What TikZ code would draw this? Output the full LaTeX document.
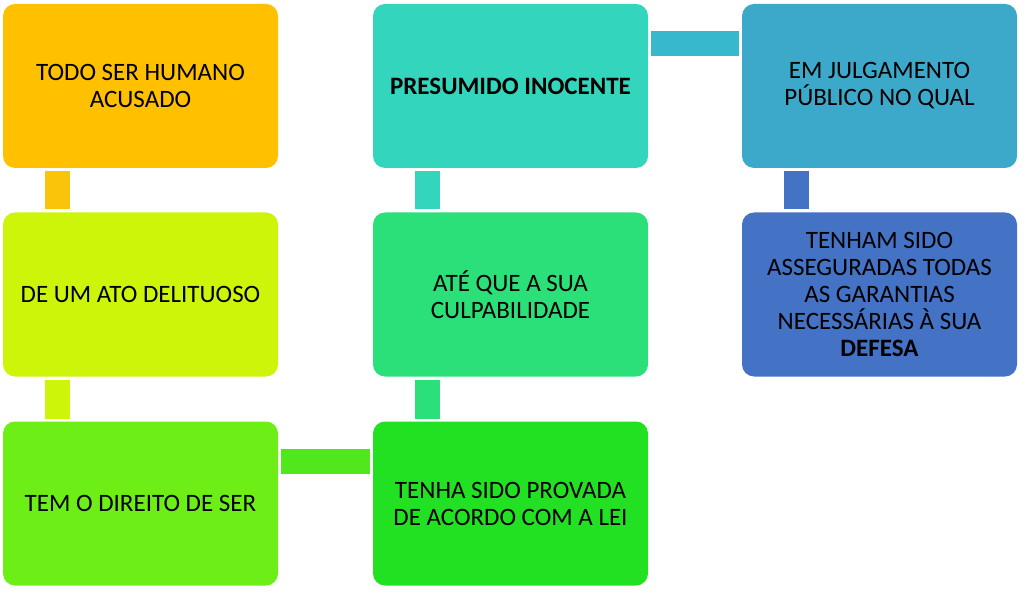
\documentclass[tikz,border=0pt]{standalone}
\usepackage{fontspec}
\setmainfont{Carlito}
\usepackage{tikz}
\usetikzlibrary{positioning}
\definecolor{boxorange}   {RGB}{255, 192,   0}
\definecolor{boxlime}     {RGB}{204, 245,  10}
\definecolor{boxgreen}    {RGB}{110, 238,  23}
\definecolor{boxdeep}     {RGB}{ 34, 224,  34}
\definecolor{boxmint}     {RGB}{ 44, 224, 121}
\definecolor{boxteal}     {RGB}{ 51, 214, 188}
\definecolor{boxsky}      {RGB}{ 61, 169, 202}
\definecolor{boxblue}     {RGB}{ 68, 114, 196}
\definecolor{linkorange}  {RGB}{250, 196,  10}
\definecolor{linkgreen}   {RGB}{ 80, 232,  28}
\definecolor{linkcyan}    {RGB}{ 56, 184, 204}

\tikzset{
	stepbox/.style={rectangle, rounded corners=12pt, minimum width=275pt,
		minimum height=164pt, inner sep=0pt, outer sep=0pt, align=center,
		font=\fontsize{25}{27}\selectfont},
	link/.style={line width=25pt, shorten <=3pt, shorten >=3pt}
}

\begin{document}
\begin{tikzpicture}[x=1pt,y=-1pt]
	\useasboundingbox (0,0) rectangle (1024,593);

	% first column
	\node[stepbox,fill=boxorange] (acusado) at (140.5,86) {TODO SER HUMANO\\ACUSADO};
	\node[stepbox,fill=boxlime] (ato) at (140.5,294.5) {DE UM ATO DELITUOSO};
	\node[stepbox,fill=boxgreen] (direito) at (140.5,503.5) {TEM O DIREITO DE SER};

	% second column
	\node[stepbox,fill=boxdeep] (provada) at (510.5,503.5) {TENHA SIDO PROVADA\\DE ACORDO COM A LEI};
	\node[stepbox,fill=boxmint] (culpa) at (510.5,294.5) {ATÉ QUE A SUA\\CULPABILIDADE};
	\node[stepbox,fill=boxteal] (inocente) at (510.5,86) {\textbf{PRESUMIDO INOCENTE}};

	% third column
	\node[stepbox,fill=boxsky] (julgamento) at (879.5,86) {EM JULGAMENTO\\PÚBLICO NO QUAL};
	\node[stepbox,fill=boxblue] (defesa) at (879.5,294.5) {TENHAM SIDO\\ASSEGURADAS TODAS\\AS GARANTIAS\\NECESSÁRIAS À SUA\\\textbf{DEFESA}};

	% connectors
	\draw[link,draw=linkorange] ([xshift=54.5pt]acusado.south west) -- ([xshift=54.5pt]ato.north west);
	\draw[link,draw=boxlime] ([xshift=54.5pt]ato.south west) -- ([xshift=54.5pt]direito.north west);
	\draw[link,draw=linkgreen] ([yshift=-39.5pt]direito.north east) -- ([yshift=-39.5pt]provada.north west);
	\draw[link,draw=boxmint] ([xshift=54.5pt]provada.north west) -- ([xshift=54.5pt]culpa.south west);
	\draw[link,draw=boxteal] ([xshift=54.5pt]culpa.north west) -- ([xshift=54.5pt]inocente.south west);
	\draw[link,draw=linkcyan] ([yshift=-40pt]inocente.north east) -- ([yshift=-40pt]julgamento.north west);
	\draw[link,draw=boxblue] ([xshift=54.5pt]julgamento.south west) -- ([xshift=54.5pt]defesa.north west);
\end{tikzpicture}
\end{document}
